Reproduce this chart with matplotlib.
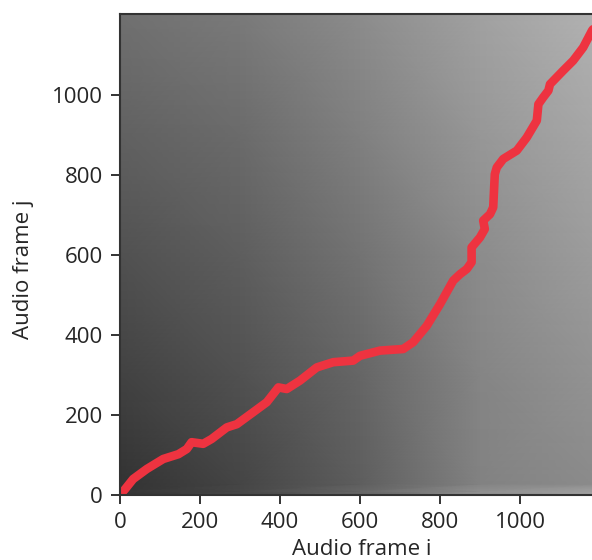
import numpy as np
import matplotlib
matplotlib.use("Agg")
import matplotlib.pyplot as plt

# DTW path (frame i, frame j)
path_i = [0, 13, 33, 67, 108, 146, 167, 179, 208, 229, 267, 292, 333, 367, 396, 417,
          450, 492, 533, 583, 600, 650, 708, 733, 767, 800, 833, 850, 867, 879, 879,
          900, 912, 908, 925, 933, 937, 942, 958, 992, 1017, 1042, 1046, 1058, 1071,
          1075, 1108, 1133, 1158, 1180, 1205]
path_j = [0, 15, 40, 65, 90, 102, 115, 132, 128, 140, 169, 177, 207, 232, 269, 265,
          286, 319, 332, 336, 348, 361, 365, 382, 423, 477, 536, 552, 565, 582, 619,
          644, 665, 686, 702, 719, 802, 819, 840, 861, 894, 936, 977, 994, 1011,
          1027, 1061, 1086, 1119, 1161, 1195]

# background cost matrix brightness, sampled on a coarse grid (0 = black, 1 = white)
grid_i = [0, 300, 600, 900, 1210]
grid_j = [0, 10, 28, 300, 600, 900, 1202]
grid_val = [
    [0.21, 0.28, 0.40, 0.57, 0.64],
    [0.21, 0.28, 0.40, 0.56, 0.63],
    [0.20, 0.27, 0.37, 0.51, 0.55],
    [0.26, 0.32, 0.40, 0.52, 0.58],
    [0.32, 0.37, 0.45, 0.55, 0.62],
    [0.38, 0.42, 0.50, 0.59, 0.66],
    [0.44, 0.48, 0.55, 0.63, 0.70],
]

plt.rcParams['font.family'] = ['Open Sans', 'DejaVu Sans']
plt.rcParams['font.size'] = 16

fig = plt.figure(figsize=(5.92, 5.6), dpi=100)
ax = fig.add_axes([120 / 592, 65 / 560, 484 / 592, 481 / 560])

ax.pcolormesh(grid_i, grid_j, np.array(grid_val), cmap='gray', vmin=0, vmax=1,
              shading='gouraud', rasterized=True)
ax.plot(path_i, path_j, color='#ee3340', linewidth=6.2, solid_capstyle='round',
        solid_joinstyle='round')

ax.set_xlim(0, 1210)
ax.set_ylim(0, 1202.5)
ax.set_xticks([0, 200, 400, 600, 800, 1000])
ax.set_yticks([0, 200, 400, 600, 800, 1000])
ax.tick_params(length=6.5, width=1.4, pad=6, colors='#333333', labelcolor='#262626')
for s in ax.spines.values():
    s.set_linewidth(1.5)
    s.set_color('#333333')

ax.set_xlabel('Audio frame i', color='#262626')
ax.set_ylabel('Audio frame j', color='#262626')
ax.yaxis.set_label_coords(-0.178, 0.47)

fig.savefig('out.png', dpi=100)
